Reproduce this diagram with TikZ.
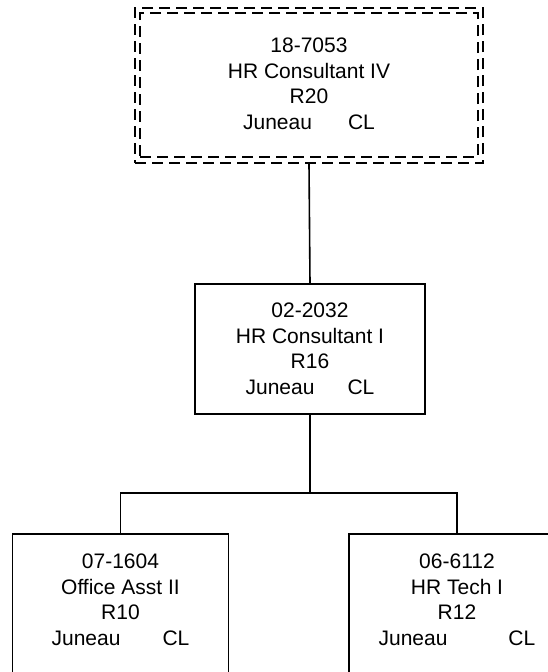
\documentclass[tikz,border=0pt]{standalone}
\usepackage{fontspec}
\setmainfont{Liberation Sans}
\begin{document}
\begin{tikzpicture}[x=1pt,y=1pt,
  box/.style={draw,line width=1.5pt,inner sep=0pt,minimum width=#1},
  dbox/.style={draw,line width=1.5pt,dash pattern=on 11pt off 6pt,inner sep=0pt},
  txt/.style={align=center,inner sep=0pt,anchor=north,font=\fontsize{21}{25.5}\selectfont},
  conn/.style={line width=1.6pt}]
\useasboundingbox (0,0) rectangle (548,-672);
% top (dashed double) box
\node[dbox,minimum width=348pt,minimum height=155pt] (topo) at (309,-85.5) {};
\node[dbox,minimum width=338pt,minimum height=144pt] (top) at (309,-85) {};
\node[txt] (toptxt) at (309,-38) {18-7053\\HR Consultant IV\\R20\\Juneau\hspace{36pt}CL};
% middle box
\node[box=230pt,minimum height=130pt] (mid) at (310,-349) {};
\node[txt] (midtxt) at (310,-303) {02-2032\\HR Consultant I\\R16\\Juneau\hspace{33pt}CL};
% bottom boxes
\node[box=216pt,minimum height=140pt] (lbox) at (120.5,-604) {};
\node[txt] (ltxt) at (120.5,-554) {07-1604\\Office Asst II\\R10\\Juneau\hspace{42pt}CL};
\node[box=216pt,minimum height=140pt] (rbox) at (457,-604) {};
\node[txt] (rtxt) at (457,-554) {06-6112\\HR Tech I\\R12\\Juneau\hspace{61pt}CL};
% connectors
\coordinate (jn) at (310,-493);
\draw[conn] (topo.south) -- (mid.north);
\draw[conn] (mid.south) -- (jn);
\draw[conn] (lbox.north) |- (jn) -| (rbox.north);
\end{tikzpicture}
\end{document}
